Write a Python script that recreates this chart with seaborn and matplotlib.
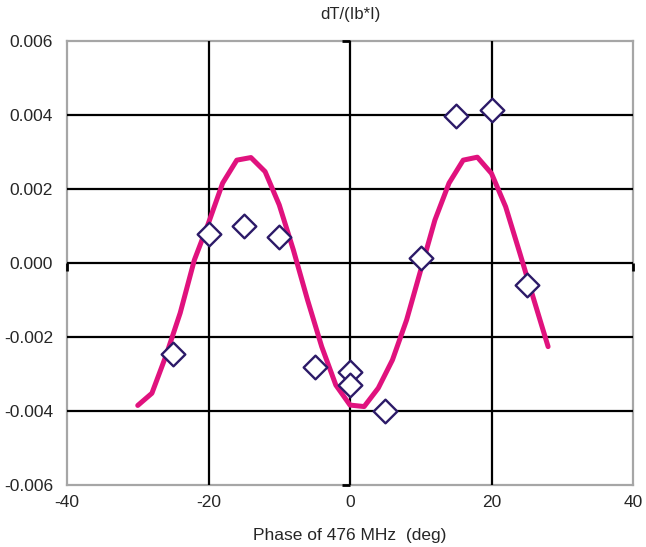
import pandas as pd
import seaborn as sns
import matplotlib.pyplot as plt
from matplotlib.markers import TICKLEFT, TICKDOWN

# measured points (diamonds)
meas_phase = [-25, -20, -15, -10, -5, 0, 0, 5, 10, 15, 20, 25]
meas_dt = [-0.00246, 0.00078, 0.00100, 0.00070, -0.00281, -0.00295,
           -0.00330, -0.00400, 0.00013, 0.00397, 0.00413, -0.00060]

fit_phase = [-30, -28, -26, -24, -22, -20, -18, -16, -14, -12, -10, -8, -6, -4, -2,
             0, 2, 4, 6, 8, 10, 12, 14, 16, 18, 20, 22, 24, 26, 28]
fit_dt = [-0.00385, -0.00352, -0.00250, -0.00135, 0.00008, 0.00108, 0.00216,
          0.00278, 0.00285, 0.00247, 0.00157, 0.00035, -0.00100, -0.00226,
          -0.00330, -0.00384, -0.00388, -0.00338, -0.00262, -0.00154, -0.00019,
          0.00116, 0.00216, 0.00278, 0.00286, 0.00242, 0.00152, 0.00027,
          -0.00100, -0.00226]

meas = pd.DataFrame({"phase": meas_phase, "dt": meas_dt})
fit = pd.DataFrame({"phase": fit_phase, "dt": fit_dt})

sns.set_style("white")
plt.rcParams["font.family"] = ["Liberation Sans", "DejaVu Sans"]
plt.rcParams["axes.unicode_minus"] = False

fig = plt.figure(figsize=(6.46, 5.47), dpi=100)
ax = fig.add_axes([67 / 646, 1 - 485 / 547, 566 / 646, 444 / 547])

# black grid
for gx in [-20, 0, 20]:
    ax.axvline(gx, color="black", lw=1.6, zorder=1)
for gy in [-0.004, -0.002, 0.0, 0.002, 0.004]:
    ax.axhline(gy, color="black", lw=1.6, zorder=1)

# small excel-like axis ticks at the crossing axes
ax.plot([0, 0], [0.006, -0.006], ls="none", marker=TICKLEFT, ms=6, mew=2,
        color="black", clip_on=False, zorder=2)
ax.plot([-40, 40], [0, 0], ls="none", marker=TICKDOWN, ms=6, mew=2,
        color="black", clip_on=False, zorder=2)

sns.lineplot(data=fit, x="phase", y="dt", ax=ax, color="#e0127e", lw=3.6,
             zorder=3, sort=False)
sns.scatterplot(data=meas, x="phase", y="dt", ax=ax, marker="D", s=145,
                facecolor="white", edgecolor="#2c1a68", linewidth=1.7,
                zorder=4, clip_on=False)

ax.set_xlim(-40, 40)
ax.set_ylim(-0.006, 0.006)
ax.set_xticks([-40, -20, 0, 20, 40])
ax.set_yticks([-0.006, -0.004, -0.002, 0.0, 0.002, 0.004, 0.006])
ax.set_yticklabels([f"{v:.3f}" for v in ax.get_yticks()])
ax.tick_params(length=0, labelsize=12.5, pad=7)
ax.tick_params(axis="y", pad=10)

for sp in ax.spines.values():
    sp.set_color("#a6a6a6")
    sp.set_linewidth(1.6)
    sp.set_zorder(0)

ax.set_xlabel("Phase of 476 MHz  (deg)", fontsize=12.5, labelpad=13)
ax.set_ylabel("")
fig.text(350 / 646, 1 - 14 / 547, "dT/(Ib*I)", ha="center", va="center",
         fontsize=12)

fig.savefig("out.png", dpi=100)
plt.close(fig)
